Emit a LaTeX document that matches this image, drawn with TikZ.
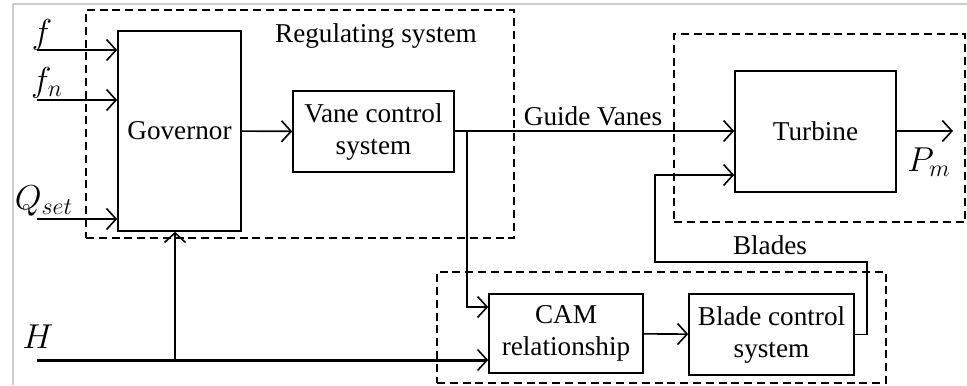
\documentclass[tikz,border=0pt]{standalone}
\usepackage{fontspec}
\setmainfont{Liberation Serif}
\usetikzlibrary{arrows.meta,calc}

\tikzset{
  blk/.style={draw, line width=0.8pt, rectangle, align=center, inner sep=1pt,
              font=\fontsize{13.6}{16}\selectfont},
  dashbox/.style={draw, line width=0.75pt, dash pattern=on 4pt off 2.4pt, rectangle, inner sep=0pt},
  tip/.style={-{Straight Barb[length=4.8pt,width=10.5pt,line width=0.8pt]}},
  sig/.style={line width=0.8pt, tip},
  thick sig/.style={line width=1.5pt, tip},
  lbl/.style={font=\fontsize{13.6}{16}\selectfont, inner sep=0pt},
  var/.style={font=\fontsize{18}{20}\selectfont, inner sep=0pt},
}

\begin{document}
\begin{tikzpicture}[x=0.5pt, y=-0.5pt]
  \useasboundingbox (0,0) rectangle (967,385);

  % page frame
  \draw[black!20, line width=0.6pt] (13,385) -- (13,4) -- (967,4);

  % grouping frames
  \node[dashbox, minimum width=214pt, minimum height=114pt] (reg) at (300,124) {};
  \node[dashbox, minimum width=145.5pt, minimum height=94pt] (turgrp) at (819.5,128) {};
  \node[dashbox, minimum width=224.5pt, minimum height=55.5pt] (bladegrp) at (661.5,327.5) {};

  % blocks
  \node[blk, minimum width=61.5pt, minimum height=100pt] (gov) at (179.5,131) {Governor};
  \node[blk, minimum width=80.5pt, minimum height=40.5pt] (vcs) at (373.5,131.5) {Vane control\\system};
  \node[blk, minimum width=80.5pt, minimum height=60.5pt] (tur) at (815.5,131.5) {Turbine};
  \node[blk, minimum width=77pt, minimum height=39.5pt] (cam) at (566,333.5) {CAM\\relationship};
  \node[blk, minimum width=82.5pt, minimum height=40.5pt] (bcs) at (771.5,334.5) {Blade control\\system};

  % labels
  \node[lbl] (reglbl) at (376,36) {Regulating system};
  \node[lbl] (gvlbl) at (593,116) {Guide Vanes};
  \node[lbl] (bllbl) at (770,245) {Blades};
  \node[var] (flbl) at (42,35) {$f$};
  \node[var] (fnlbl) at (47,83) {$f_n$};
  \node[var] (qlbl) at (44,201) {$Q_{set}$};
  \node[var] (hlbl) at (38,337) {$H$};
  \node[var] (pmlbl) at (929,162) {$P_m$};

  % free ends of the inputs and branch points
  \coordinate (fin) at (37,50);
  \coordinate (fnin) at (37,100);
  \coordinate (qin) at (37,219);
  \coordinate (hin) at (37,360);
  \coordinate (hj) at (175,360);
  \coordinate (br) at (467,131);
  \coordinate (pout) at (953,131);
  \coordinate (bt1) at (867,262);
  \coordinate (bt2) at (655,262);

  % governor inputs
  \draw[sig] (fin) -- (fin -| gov.west);
  \draw[sig] (fnin) -- (fnin -| gov.west);
  \draw[sig] (qin) -- (qin -| gov.west);

  % forward path
  \draw[sig] (gov) -- (vcs);
  \draw[sig] (vcs.east |- br) -- (br -| tur.west);
  \draw[sig] (br) |- ($(cam.west)+(0,-26.5)$);
  \draw[sig] (tur.east |- pout) -- (pout);
  \draw[sig] (cam) -- (bcs);

  % head input
  \draw[thick sig] (hin) -- (hin -| cam.west);
  \draw[line width=1.2pt, tip] (hj) -- (hj |- gov.south);

  % blade feedback to the turbine
  \draw[sig] (bcs.east) -| (bt1) -- (bt2) |- ($(tur.west)+(0,43.5)$);
\end{tikzpicture}
\end{document}
